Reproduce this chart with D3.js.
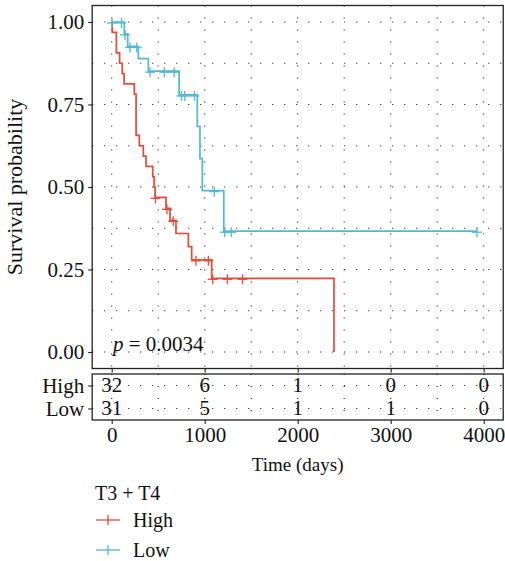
<!DOCTYPE html>
<html>
<head>
<meta charset="utf-8">
<script src="https://cdn.jsdelivr.net/npm/d3@7"></script>
<style>
  html, body { margin: 0; padding: 0; background: #fff; }
  svg { display: block; }
  text { font-family: "Liberation Serif", "Times New Roman", serif; fill: #111; }
</style>
</head>
<body>
<svg id="chart" width="505" height="561"></svg>
<script>
// Kaplan–Meier curves for the T3 + T4 subgroup, split by expression level.
const groups = ["High", "Low"];
const groupColors = ["#E64B35", "#4DBBD5"];

// Step curve of the High group: time of each drop and survival after it
const highStepTime = [0, 6, 50, 85, 113, 133, 243, 262, 297, 340, 369, 441, 455, 466, 584, 627, 691, 824, 860, 1075, 2390];
const highStepSurv = [1, 0.96875, 0.90625, 0.875, 0.84375, 0.8125, 0.78125, 0.65625, 0.625, 0.59375, 0.5625, 0.53125, 0.5, 0.46875, 0.4353, 0.399, 0.3591, 0.3192, 0.2793, 0.2234, 0];
const highEndTime = 2390;
const highCensorTime = [470, 594, 662, 906, 1039, 1086, 1243, 1406];

// Step curve of the Low group
const lowStepTime = [0, 135, 172, 286, 394, 725, 920, 949, 974, 1205];
const lowStepSurv = [1, 0.964, 0.926, 0.889, 0.851, 0.779, 0.684, 0.586, 0.489, 0.366];
const lowEndTime = 3928;
const lowCensorTime = [3, 105, 143, 197, 269, 412, 566, 672, 750, 785, 890, 1103, 1215, 1285, 3928];

// Number at risk table
const riskTimes = [0, 1000, 2000, 3000, 4000];
const highAtRisk = [32, 6, 1, 0, 0];
const lowAtRisk = [31, 5, 1, 1, 0];

// Axis ticks
const timeTicks = [0, 1000, 2000, 3000, 4000];
const timeMinor = [500, 1500, 2500, 3500];
const survTicks = [0, 0.25, 0.5, 0.75, 1];
const survMinor = [0.125, 0.375, 0.625, 0.875];

const pValueText = "0.0034";
const legendTitle = "T3 + T4";

const tickFont = 21;
const titleFont = 20;

const svg = d3.select("#chart");

// Scales: the panel spans the data range plus 5% padding on every side
const x = d3.scaleLinear().domain([0, 4000]).range([111.7, 483.7]);
const y = d3.scaleLinear().domain([0, 1]).range([352, 22]);
const xLo = -210, xHi = 4210;
const panel = { x0: x(xLo), x1: x(xHi), y0: y(1.05), y1: y(-0.05) };
const table = { y0: 374, y1: 420 };
const rowY = d3.scalePoint().domain(groups).range([385.5, 408.5]);

const gridStyle = g => g.attr("stroke", "#222").attr("stroke-width", 1.1)
  .attr("stroke-dasharray", "1.1,10.9").attr("fill", "none");

// ---- survival panel grid ----
const grid = svg.append("g");
[...survTicks, ...survMinor].forEach(v => {
  grid.append("line").call(gridStyle)
    .attr("x1", panel.x0).attr("x2", panel.x1).attr("y1", y(v)).attr("y2", y(v));
});
[...timeTicks, ...timeMinor].forEach(v => {
  grid.append("line").call(gridStyle)
    .attr("x1", x(v)).attr("x2", x(v)).attr("y1", panel.y0).attr("y2", panel.y1);
});

// ---- curves ----
const series = [
  { name: "High", times: highStepTime, surv: highStepSurv, end: highEndTime, censor: highCensorTime },
  { name: "Low", times: lowStepTime, surv: lowStepSurv, end: lowEndTime, censor: lowCensorTime }
];

function survAt(s, t) {
  let v = s.surv[0];
  for (let i = 0; i < s.times.length; i++) if (s.times[i] <= t) v = s.surv[i];
  return v;
}

const stepLine = d3.line().x(d => x(d[0])).y(d => y(d[1])).curve(d3.curveStepAfter);

series.forEach((s, i) => {
  const pts = s.times.map((t, k) => [t, s.surv[k]]);
  if (s.end > s.times[s.times.length - 1]) pts.push([s.end, s.surv[s.surv.length - 1]]);
  const color = groupColors[i];
  svg.append("path").datum(pts)
    .attr("d", stepLine)
    .attr("fill", "none").attr("stroke", color).attr("stroke-width", 1.7)
    .attr("stroke-linejoin", "miter");
  const cg = svg.append("g").attr("stroke", color).attr("stroke-width", 1.3);
  s.censor.forEach(t => {
    const cx = x(t), cy = y(survAt(s, t)) + 1;
    cg.append("line").attr("x1", cx - 5).attr("x2", cx + 5).attr("y1", cy).attr("y2", cy);
    cg.append("line").attr("x1", cx).attr("x2", cx).attr("y1", cy - 5).attr("y2", cy + 5);
  });
});

// ---- panel frame and axes ----
const axisColor = "#222";
svg.append("rect")
  .attr("x", panel.x0).attr("y", panel.y0)
  .attr("width", panel.x1 - panel.x0).attr("height", panel.y1 - panel.y0)
  .attr("fill", "none").attr("stroke", axisColor).attr("stroke-width", 1.3);

const yAxis = svg.append("g").attr("transform", `translate(${panel.x0},0)`)
  .call(d3.axisLeft(y).tickValues(survTicks).tickFormat(d3.format(".2f")).tickSize(4).tickPadding(4));
yAxis.select(".domain").remove();
yAxis.selectAll("line").attr("stroke", axisColor).attr("stroke-width", 1.1);
yAxis.selectAll("text").attr("font-size", tickFont).attr("font-family", "Liberation Serif").attr("fill", "#111");

const xTopAxis = svg.append("g").attr("transform", `translate(0,${panel.y1})`)
  .call(d3.axisBottom(x).tickValues(timeTicks).tickFormat("").tickSize(4));
xTopAxis.select(".domain").remove();
xTopAxis.selectAll("line").attr("stroke", axisColor).attr("stroke-width", 1.1);

svg.append("text")
  .attr("transform", `translate(22,${(panel.y0 + panel.y1) / 2}) rotate(-90)`)
  .attr("text-anchor", "middle").attr("font-size", titleFont + 2)
  .text("Survival probability");

// p-value
const pText = svg.append("text").attr("x", 113).attr("y", 351).attr("font-size", tickFont);
pText.append("tspan").attr("font-style", "italic").text("p");
pText.append("tspan").text(" = " + pValueText);

// ---- number at risk table ----
const tgrid = svg.append("g");
groups.forEach(gname => {
  tgrid.append("line").call(gridStyle)
    .attr("x1", panel.x0).attr("x2", panel.x1).attr("y1", rowY(gname)).attr("y2", rowY(gname));
});
[...timeTicks, ...timeMinor].forEach(v => {
  tgrid.append("line").call(gridStyle)
    .attr("x1", x(v)).attr("x2", x(v)).attr("y1", table.y0).attr("y2", table.y1);
});

const riskRows = [highAtRisk, lowAtRisk];
groups.forEach((gname, gi) => {
  svg.append("g").selectAll("text").data(riskTimes).join("text")
    .attr("x", d => x(d)).attr("y", rowY(gname)).attr("dy", "0.33em")
    .attr("text-anchor", "middle").attr("font-size", tickFont)
    .text((d, k) => riskRows[gi][k]);
});

svg.append("rect")
  .attr("x", panel.x0).attr("y", table.y0)
  .attr("width", panel.x1 - panel.x0).attr("height", table.y1 - table.y0)
  .attr("fill", "none").attr("stroke", axisColor).attr("stroke-width", 1.3);

const rowAxis = svg.append("g").attr("transform", `translate(${panel.x0},0)`)
  .call(d3.axisLeft(rowY).tickSize(4).tickPadding(4));
rowAxis.select(".domain").remove();
rowAxis.selectAll("line").attr("stroke", axisColor).attr("stroke-width", 1.1);
rowAxis.selectAll("text").attr("font-size", tickFont).attr("font-family", "Liberation Serif").attr("fill", "#111");

const xAxis = svg.append("g").attr("transform", `translate(0,${table.y1})`)
  .call(d3.axisBottom(x).tickValues(timeTicks).tickFormat(d3.format("d")).tickSize(4).tickPadding(3));
xAxis.select(".domain").remove();
xAxis.selectAll("line").attr("stroke", axisColor).attr("stroke-width", 1.1);
xAxis.selectAll("text").attr("font-size", tickFont).attr("font-family", "Liberation Serif").attr("fill", "#111");

svg.append("text")
  .attr("x", (panel.x0 + panel.x1) / 2).attr("y", 471)
  .attr("text-anchor", "middle").attr("font-size", 19)
  .text("Time (days)");

// ---- legend ----
svg.append("text").attr("x", 95).attr("y", 500).attr("font-size", titleFont).text(legendTitle);
groups.forEach((gname, i) => {
  const ly = 520 + i * 30;
  const lg = svg.append("g").attr("stroke", groupColors[i]).attr("stroke-width", 1.3);
  lg.append("line").attr("x1", 96).attr("x2", 120).attr("y1", ly).attr("y2", ly);
  lg.append("line").attr("x1", 108).attr("x2", 108).attr("y1", ly - 5).attr("y2", ly + 5);
  svg.append("text").attr("x", 133).attr("y", ly).attr("dy", "0.35em").attr("font-size", titleFont).text(gname);
});
</script>
</body>
</html>
